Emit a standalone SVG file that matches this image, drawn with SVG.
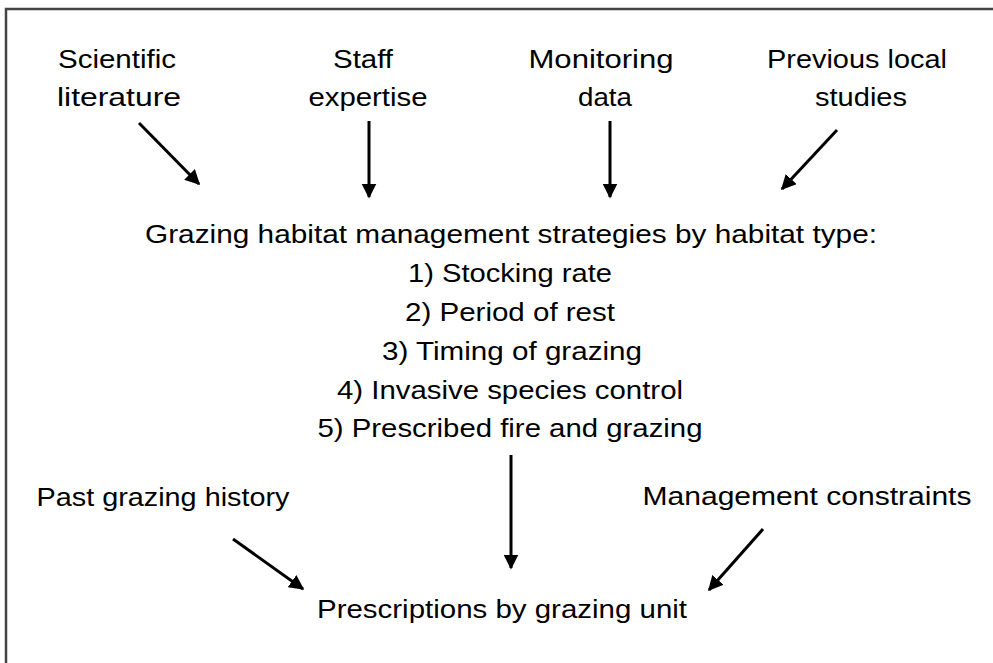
<svg xmlns="http://www.w3.org/2000/svg" width="993" height="663" viewBox="0 0 993 663">
<style>
text{font-family:"Liberation Sans",Arial,sans-serif;font-size:25px;fill:#000;}
.c{text-anchor:middle;}
.conn line{stroke:#000;stroke-width:3;marker-end:url(#ah);}
</style>
<defs>
<marker id="ah" viewBox="0 0 10 10" refX="9" refY="5" markerWidth="5" markerHeight="5" orient="auto" markerUnits="strokeWidth">
<path d="M0,0 L10,5 L0,10 z" fill="#000"/>
</marker>
</defs>
<rect width="993" height="663" fill="#fff"/>
<path d="M6,670 V9 H1000" fill="none" stroke="#444" stroke-width="2.5"/>
<g id="n-sci"><text x="117" y="68" class="c" textLength="118" lengthAdjust="spacingAndGlyphs">Scientific</text><text x="119" y="106" class="c" textLength="124" lengthAdjust="spacingAndGlyphs">literature</text></g>
<g id="n-staff"><text x="363" y="68" class="c" textLength="60" lengthAdjust="spacingAndGlyphs">Staff</text><text x="368" y="106" class="c" textLength="119" lengthAdjust="spacingAndGlyphs">expertise</text></g>
<g id="n-mon"><text x="601" y="68" class="c" textLength="145" lengthAdjust="spacingAndGlyphs">Monitoring</text><text x="605" y="106" class="c" textLength="54" lengthAdjust="spacingAndGlyphs">data</text></g>
<g id="n-prev"><text x="857" y="68" class="c" textLength="180" lengthAdjust="spacingAndGlyphs">Previous local</text><text x="861" y="106" class="c" textLength="92" lengthAdjust="spacingAndGlyphs">studies</text></g>
<g id="n-strat">
<text x="511" y="243" class="c" textLength="732" lengthAdjust="spacingAndGlyphs">Grazing habitat management strategies by habitat type:</text>
<text x="510" y="282" class="c" textLength="204" lengthAdjust="spacingAndGlyphs">1) Stocking rate</text>
<text x="510" y="321" class="c" textLength="210" lengthAdjust="spacingAndGlyphs">2) Period of rest</text>
<text x="512" y="360" class="c" textLength="260" lengthAdjust="spacingAndGlyphs">3) Timing of grazing</text>
<text x="510" y="399" class="c" textLength="346" lengthAdjust="spacingAndGlyphs">4) Invasive species control</text>
<text x="510" y="437" class="c" textLength="385" lengthAdjust="spacingAndGlyphs">5) Prescribed fire and grazing</text>
</g>
<g id="n-past"><text x="163" y="506" class="c" textLength="253" lengthAdjust="spacingAndGlyphs">Past grazing history</text></g>
<g id="n-mgmt"><text x="807" y="505" class="c" textLength="329" lengthAdjust="spacingAndGlyphs">Management constraints</text></g>
<g id="n-presc"><text x="502" y="618" class="c" textLength="370" lengthAdjust="spacingAndGlyphs">Prescriptions by grazing unit</text></g>
<g id="connectors" class="conn">
<line x1="139" y1="123" x2="199" y2="184"/>
<line x1="369" y1="121" x2="369" y2="197"/>
<line x1="610" y1="121" x2="610" y2="197"/>
<line x1="837" y1="130" x2="782" y2="189"/>
<line x1="511" y1="455" x2="511" y2="568"/>
<line x1="233" y1="539" x2="303" y2="589"/>
<line x1="763" y1="529" x2="709" y2="590"/>
</g>
</svg>
